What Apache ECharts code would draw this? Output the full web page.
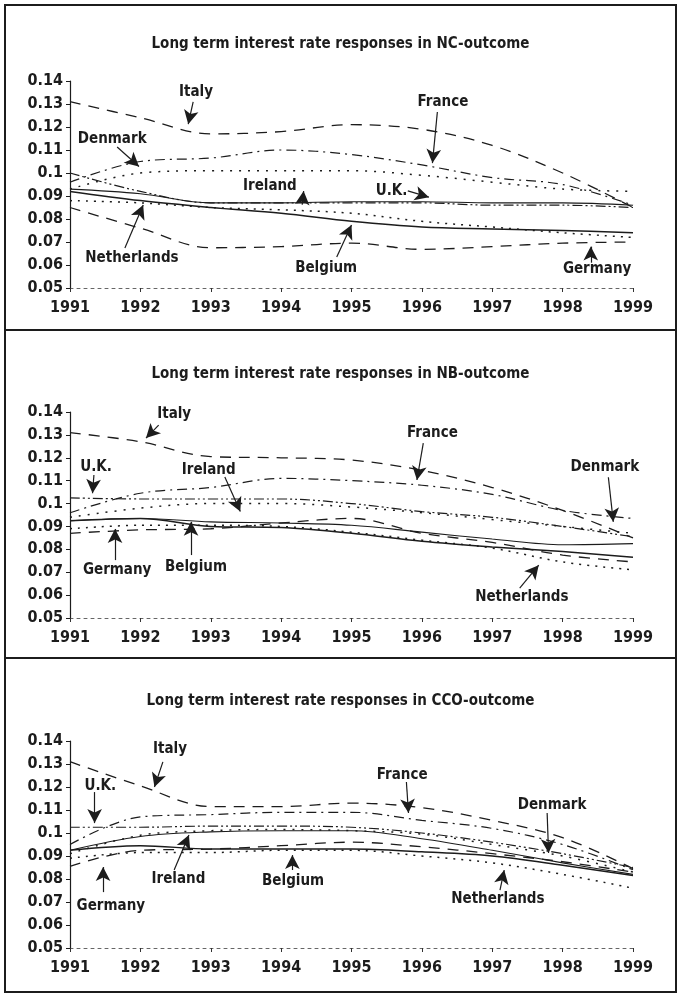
<!DOCTYPE html>
<html>
<head>
<meta charset="utf-8">
<script src="https://cdn.jsdelivr.net/npm/echarts@6/dist/echarts.min.js"></script>
<style>
  html, body { margin: 0; padding: 0; background: #fff; }
  #chart { width: 681px; height: 997px; }
</style>
</head>
<body>
<div id="chart"></div>
<script>
// ---------- DATA ----------
const years = [1991, 1992, 1993, 1994, 1995, 1996, 1997, 1998, 1999];
const countries = ['Italy', 'France', 'Denmark', 'Ireland', 'U.K.', 'Netherlands', 'Belgium', 'Germany'];
const yTicks = [0.05, 0.06, 0.07, 0.08, 0.09, 0.1, 0.11, 0.12, 0.13, 0.14];

// NC-outcome
const ncItaly       = [0.131, 0.124, 0.117, 0.118, 0.121, 0.119, 0.112, 0.100, 0.085];
const ncFrance      = [0.096, 0.105, 0.1065, 0.110, 0.108, 0.1035, 0.098, 0.095, 0.086];
const ncDenmark     = [0.093, 0.100, 0.101, 0.101, 0.101, 0.099, 0.096, 0.093, 0.092];
const ncIreland     = [0.093, 0.091, 0.087, 0.087, 0.0875, 0.0875, 0.087, 0.087, 0.086];
const ncUK          = [0.100, 0.092, 0.087, 0.087, 0.087, 0.087, 0.086, 0.086, 0.085];
const ncNetherlands = [0.088, 0.087, 0.085, 0.084, 0.0825, 0.079, 0.0765, 0.074, 0.072];
const ncBelgium     = [0.092, 0.088, 0.085, 0.0825, 0.079, 0.0765, 0.0757, 0.075, 0.074];
const ncGermany     = [0.085, 0.076, 0.0675, 0.068, 0.0695, 0.0668, 0.068, 0.0695, 0.070];

// NB-outcome
const nbItaly       = [0.131, 0.127, 0.1205, 0.120, 0.119, 0.1145, 0.107, 0.097, 0.085];
const nbFrance      = [0.096, 0.1045, 0.107, 0.111, 0.110, 0.108, 0.104, 0.097, 0.0935];
const nbDenmark     = [0.094, 0.098, 0.100, 0.100, 0.0985, 0.096, 0.093, 0.090, 0.087];
const nbIreland     = [0.0925, 0.0935, 0.092, 0.0915, 0.0905, 0.0875, 0.0845, 0.082, 0.0825];
const nbUK          = [0.1025, 0.102, 0.102, 0.102, 0.100, 0.0965, 0.094, 0.090, 0.0855];
const nbNetherlands = [0.089, 0.0905, 0.0905, 0.090, 0.0875, 0.084, 0.0805, 0.0745, 0.071];
const nbBelgium     = [0.0925, 0.0935, 0.090, 0.0895, 0.087, 0.0835, 0.081, 0.079, 0.0765];
const nbGermany     = [0.087, 0.0885, 0.089, 0.0915, 0.0935, 0.087, 0.083, 0.0775, 0.0745];

// CCO-outcome
const ccoItaly       = [0.131, 0.1205, 0.1115, 0.1115, 0.113, 0.111, 0.1055, 0.098, 0.0845];
const ccoFrance      = [0.095, 0.107, 0.108, 0.109, 0.109, 0.1055, 0.102, 0.095, 0.084];
const ccoDenmark     = [0.091, 0.099, 0.101, 0.1015, 0.101, 0.0995, 0.095, 0.090, 0.083];
const ccoIreland     = [0.0925, 0.0985, 0.1005, 0.101, 0.101, 0.0975, 0.0925, 0.087, 0.082];
const ccoUK          = [0.1025, 0.1025, 0.103, 0.103, 0.1025, 0.100, 0.096, 0.091, 0.085];
const ccoNetherlands = [0.089, 0.0915, 0.0915, 0.0925, 0.0925, 0.090, 0.087, 0.082, 0.076];
const ccoBelgium     = [0.0925, 0.0945, 0.093, 0.093, 0.093, 0.0918, 0.090, 0.086, 0.0815];
const ccoGermany     = [0.0855, 0.0925, 0.093, 0.0945, 0.096, 0.094, 0.091, 0.0875, 0.083];

// Annotation labels: [name, textYear, textValue, arrowFromYear, arrowFromValue, arrowToYear, arrowToValue]
const ncNotes = [
  ['Italy',       1992.79, 0.1352, 1992.75, 0.1309, 1992.68, 0.1212],
  ['France',      1996.3,  0.1309, 1996.22, 0.1265, 1996.15, 0.1043],
  ['Denmark',     1991.6,  0.1148, 1991.67, 0.1113, 1991.98, 0.1028],
  ['Ireland',     1993.84, 0.0942, 1994.3,  0.0862, 1994.32, 0.0922],
  ['U.K.',        1995.57, 0.0922, 1995.8,  0.0922, 1996.1,  0.0895],
  ['Netherlands', 1991.88, 0.0632, 1991.78, 0.0674, 1992.04, 0.0861],
  ['Belgium',     1994.64, 0.0587, 1994.79, 0.0635, 1995.0,  0.0774],
  ['Germany',     1998.49, 0.0583, 1998.40, 0.0610, 1998.40, 0.0680]
];
const nbNotes = [
  ['Italy',       1992.48, 0.1392, 1992.26, 0.1343, 1992.08, 0.1286],
  ['France',      1996.15, 0.1308, 1996.02, 0.1264, 1995.93, 0.1103],
  ['U.K.',        1991.37, 0.1160, 1991.34, 0.1125, 1991.32, 0.1045],
  ['Ireland',     1992.97, 0.1146, 1993.2,  0.1116, 1993.42, 0.0965],
  ['Denmark',     1998.6,  0.1160, 1998.65, 0.1115, 1998.72, 0.0920],
  ['Germany',     1991.67, 0.0710, 1991.64, 0.0753, 1991.64, 0.0889],
  ['Belgium',     1992.79, 0.0723, 1992.72, 0.0775, 1992.72, 0.0920],
  ['Netherlands', 1997.42, 0.0592, 1997.39, 0.0631, 1997.66, 0.0731]
];
const ccoNotes = [
  ['Italy',       1992.42, 0.1365, 1992.32, 0.1309, 1992.2,  0.1200],
  ['U.K.',        1991.43, 0.1204, 1991.35, 0.1178, 1991.35, 0.1043],
  ['France',      1995.72, 0.1252, 1995.78, 0.1222, 1995.81, 0.1087],
  ['Denmark',     1997.85, 0.1122, 1997.78, 0.1087, 1997.8,  0.0913],
  ['Ireland',     1992.54, 0.0800, 1992.48, 0.0839, 1992.69, 0.0991],
  ['Belgium',     1994.17, 0.0791, 1994.16, 0.0839, 1994.16, 0.0904],
  ['Germany',     1991.58, 0.0683, 1991.47, 0.0743, 1991.47, 0.0852],
  ['Netherlands', 1997.08, 0.0713, 1997.11, 0.0752, 1997.17, 0.0839]
];

const panelTitles = [
  'Long term interest rate responses in NC-outcome',
  'Long term interest rate responses in NB-outcome',
  'Long term interest rate responses in CCO-outcome'
];

// ---------- BUILD ----------
const panelData = [
  { Italy: ncItaly, France: ncFrance, Denmark: ncDenmark, Ireland: ncIreland, 'U.K.': ncUK, Netherlands: ncNetherlands, Belgium: ncBelgium, Germany: ncGermany },
  { Italy: nbItaly, France: nbFrance, Denmark: nbDenmark, Ireland: nbIreland, 'U.K.': nbUK, Netherlands: nbNetherlands, Belgium: nbBelgium, Germany: nbGermany },
  { Italy: ccoItaly, France: ccoFrance, Denmark: ccoDenmark, Ireland: ccoIreland, 'U.K.': ccoUK, Netherlands: ccoNetherlands, Belgium: ccoBelgium, Germany: ccoGermany }
];
const panelNotes = [ncNotes, nbNotes, ccoNotes];

const INK = '#1c1c1c';
const FONT = '"Liberation Sans Narrow", "DejaVu Sans Condensed", "DejaVu Sans", sans-serif';
const lineStyles = {
  'Italy':       { type: [11, 8], width: 1.3 },
  'France':      { type: [10, 5, 2, 5], width: 1.2 },
  'Denmark':     { type: [2, 7], width: 1.5 },
  'Ireland':     { type: 'solid', width: 1.1 },
  'U.K.':        { type: [10, 3, 2, 3, 2, 3], width: 1.2 },
  'Netherlands': { type: [2, 6], width: 1.5 },
  'Belgium':     { type: 'solid', width: 1.5 },
  'Germany':     { type: [11, 8], width: 1.3 }
};

const layout = [
  { box: [5, 5, 671, 325],   titleTop: 32,  gridTop: 81,  gridH: 207 },
  { box: [5, 330, 671, 328], titleTop: 362, gridTop: 412, gridH: 206 },
  { box: [5, 658, 671, 334], titleTop: 689, gridTop: 741, gridH: 207 }
];

const grids = [], xAxes = [], yAxes = [], series = [], titles = [], graphics = [];

layout.forEach((L, p) => {
  grids.push({ left: 70, right: 48, top: L.gridTop, height: L.gridH });
  titles.push({
    text: panelTitles[p], left: 'center', top: L.titleTop,
    textStyle: { fontFamily: FONT, fontSize: 15, fontWeight: 'bold', color: INK }
  });
  graphics.push({
    type: 'rect', shape: { x: L.box[0], y: L.box[1], width: L.box[2], height: L.box[3] },
    style: { fill: 'none', stroke: INK, lineWidth: 2 }, silent: true
  });
  xAxes.push({
    type: 'value', gridIndex: p, min: years[0], max: years[years.length - 1], interval: 1,
    axisLine: { lineStyle: { color: '#666', type: [3, 4], width: 1 } },
    axisTick: { show: true, length: 4, lineStyle: { color: '#333' } },
    axisLabel: { fontFamily: FONT, fontSize: 16, fontWeight: 'bold', color: INK, margin: 12, formatter: v => String(v) },
    splitLine: { show: false }
  });
  yAxes.push({
    type: 'value', gridIndex: p, min: yTicks[0], max: yTicks[yTicks.length - 1], interval: 0.01,
    axisLine: { show: true, lineStyle: { color: INK, width: 1.2 } },
    axisTick: { show: true, length: 4, lineStyle: { color: INK } },
    axisLabel: { fontFamily: FONT, fontSize: 16, fontWeight: 'bold', color: INK, margin: 7,
      formatter: v => String(+v.toFixed(2)) },
    splitLine: { show: false }
  });
  countries.forEach(c => {
    series.push({
      type: 'line', name: c, xAxisIndex: p, yAxisIndex: p,
      data: years.map((y, i) => [y, panelData[p][c][i]]),
      smooth: 0.35, symbol: 'none',
      lineStyle: { color: INK, type: lineStyles[c].type, width: lineStyles[c].width }
    });
  });
  const notes = panelNotes[p];
  series.push({
    type: 'line', name: 'notes' + p, xAxisIndex: p, yAxisIndex: p, data: [],
    markPoint: {
      symbol: 'circle', symbolSize: 0,
      label: { show: true, position: 'inside', formatter: '{b}', fontFamily: FONT, fontSize: 15, fontWeight: 'bold', color: INK },
      data: notes.map(n => ({ name: n[0], coord: [n[1], n[2]] }))
    },
    markLine: {
      symbol: ['none', 'arrow'], symbolSize: [11, 14],
      label: { show: false },
      lineStyle: { color: INK, type: 'solid', width: 1.2 },
      emphasis: { disabled: true },
      data: notes.map(n => [{ coord: [n[3], n[4]] }, { coord: [n[5], n[6]] }])
    }
  });
});

const chart = echarts.init(document.getElementById('chart'), null, { renderer: 'canvas' });
chart.setOption({
  animation: false,
  backgroundColor: '#fff',
  title: titles,
  grid: grids,
  xAxis: xAxes,
  yAxis: yAxes,
  series: series,
  graphic: graphics
});
</script>
</body>
</html>
